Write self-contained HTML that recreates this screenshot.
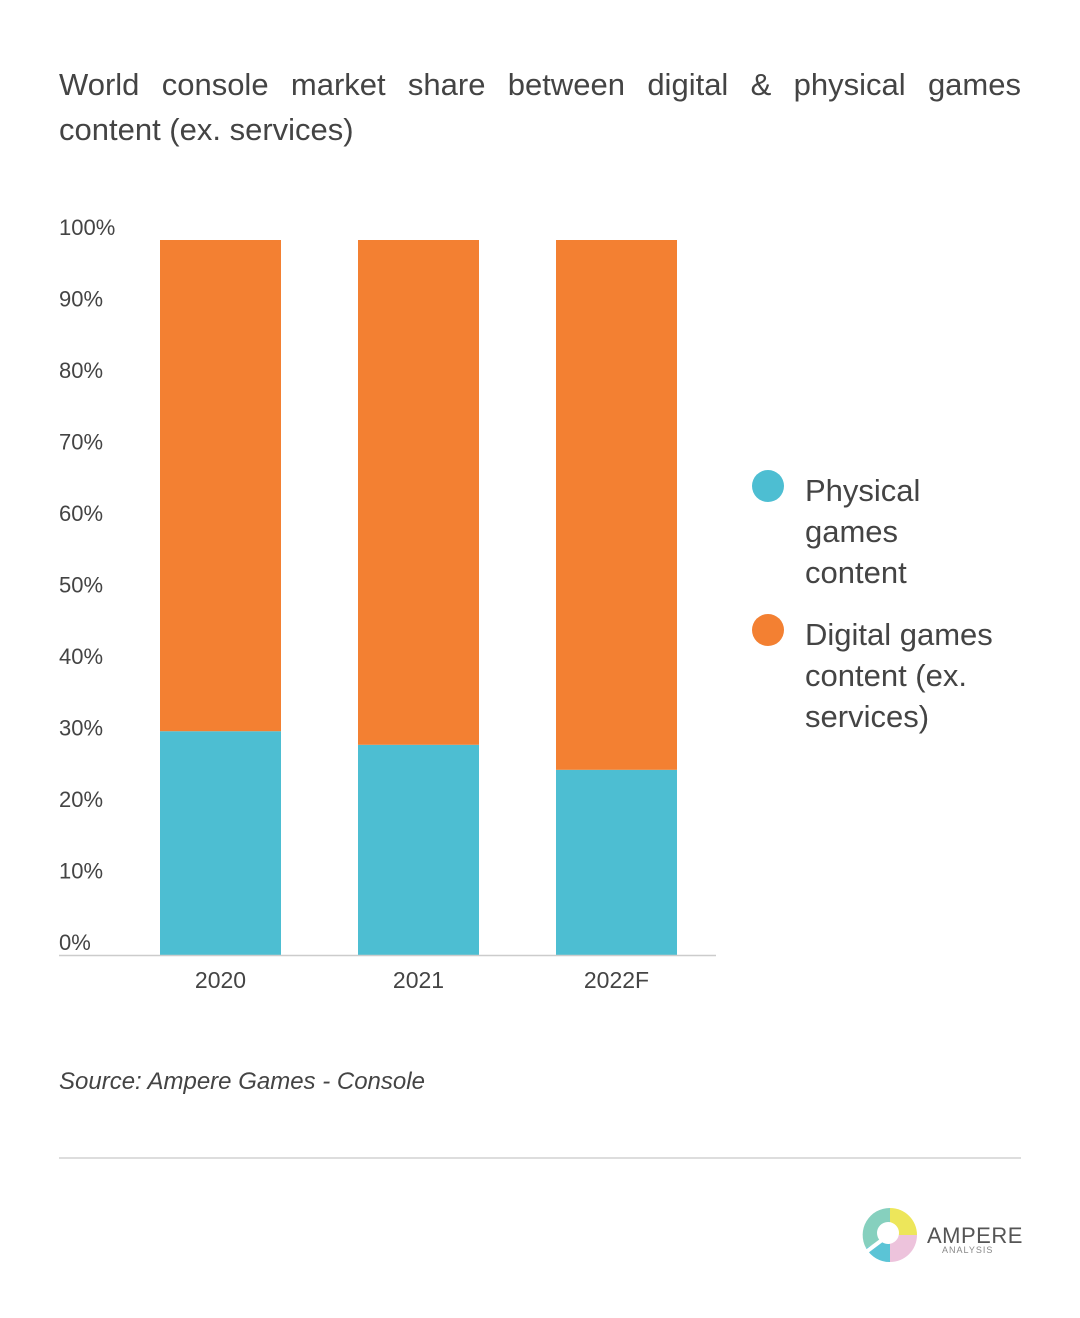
<!DOCTYPE html>
<html><head><meta charset="utf-8">
<style>
body{margin:0;width:1080px;height:1318px;background:#fff;font-family:"Liberation Sans",sans-serif;color:#444;position:relative;overflow:hidden}
.t{position:absolute;left:59px;top:62px;width:962px;font-size:31px;line-height:45px;text-align:justify;text-align-last:left;color:#444}
</style></head><body>
<div class="t">World console market share between digital &amp; physical games content (ex. services)</div>
<svg width="1080" height="1318" style="position:absolute;left:0;top:0">
<g id="yt"></g><g id="bars"></g><g id="xt"></g>
<line x1="59" y1="955.5" x2="716" y2="955.5" stroke="#ccc" stroke-width="1.5"/>
<g font-size="31" fill="#444">
<circle cx="768" cy="486" r="16" fill="#4DBED2"/>
<text x="805" y="501"><tspan x="805">Physical</tspan><tspan x="805" dy="41">games</tspan><tspan x="805" dy="41">content</tspan></text>
<circle cx="768" cy="630" r="16" fill="#F38032"/>
<text x="805" y="645"><tspan x="805">Digital games</tspan><tspan x="805" dy="41">content (ex.</tspan><tspan x="805" dy="41">services)</tspan></text>
</g>
<text x="59" y="1089" font-size="24" font-style="italic" fill="#444">Source: Ampere Games - Console</text>
<line x1="59" y1="1158" x2="1021" y2="1158" stroke="#ddd" stroke-width="2"/>
<g>
<path d="M890,1208 A27,27 0 0 1 917,1235 L890,1235 Z" fill="#EDE65A"/>
<path d="M917,1235 A27,27 0 0 1 890,1262 L890,1235 Z" fill="#EDC3DC"/>
<path d="M890,1262 A27,27 0 0 1 866,1248 L890,1235 Z" fill="#5BC4D6"/>
<path d="M866,1248 A27,27 0 0 1 890,1208 L890,1235 Z" fill="#86D0BE"/>
<circle cx="888" cy="1233" r="11" fill="#fff"/>
<line x1="866" y1="1252" x2="882" y2="1240" stroke="#fff" stroke-width="4"/>
<text x="927" y="1243" font-size="22" fill="#555" letter-spacing="0.5">AMPERE</text>
<text x="942" y="1253" font-size="9" fill="#888" letter-spacing="1">ANALYSIS</text>
</g>
</svg>
<script>
const categories=["2020","2021","2022F"];
const physical=[31.3,29.4,25.9];
const digital=[68.7,70.6,74.1];
const yTicks=[0,10,20,30,40,50,60,70,80,90,100];
const NS="http://www.w3.org/2000/svg";
const y0=955,y1=240;
const y=v=>y0-(y0-y1)*v/100;
const x=i=>160+i*198;
const bw=121;
const yt=document.getElementById('yt');
yTicks.forEach(v=>{const t=document.createElementNS(NS,'text');
t.setAttribute('x',59);t.setAttribute('y',y(v)-5);t.setAttribute('font-size',22);t.setAttribute('fill','#444');t.textContent=v+'%';


yt.appendChild(t);});
const bars=document.getElementById('bars'),xt=document.getElementById('xt');
categories.forEach((c,i)=>{
const p=document.createElementNS(NS,'rect');
p.setAttribute('x',x(i));p.setAttribute('width',bw);p.setAttribute('y',y(physical[i]));p.setAttribute('height',y0-y(physical[i]));p.setAttribute('fill','#4DBED2');


bars.appendChild(p);
const d=document.createElementNS(NS,'rect');
d.setAttribute('x',x(i));d.setAttribute('width',bw);d.setAttribute('y',y(physical[i]+digital[i]));d.setAttribute('height',y(physical[i])-y(physical[i]+digital[i]));d.setAttribute('fill','#F38032');


bars.appendChild(d);
const t=document.createElementNS(NS,'text');
t.setAttribute('x',x(i)+bw/2);t.setAttribute('y',988);t.setAttribute('text-anchor','middle');t.setAttribute('font-size',23);t.setAttribute('fill','#444');t.textContent=c;


xt.appendChild(t);
});
</script>
</body></html>
